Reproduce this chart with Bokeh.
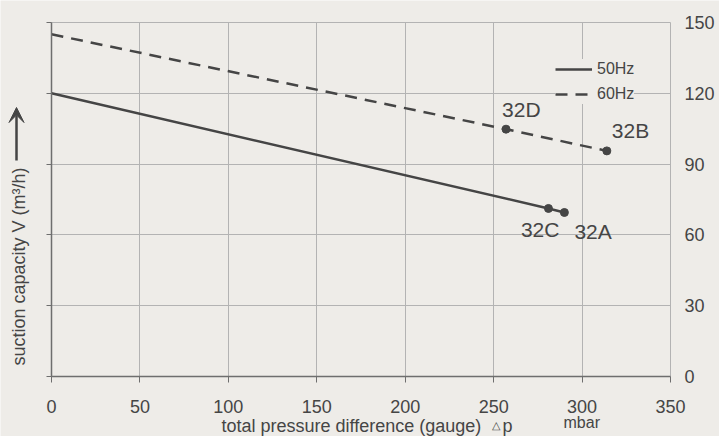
import math
from bokeh.plotting import figure
from bokeh.models import (FixedTicker, Range1d, Label, Arrow, VeeHead, LinearAxis,
                          Legend, LegendItem, ColumnDataSource)
from bokeh.core.properties import value
from bokeh.embed import file_html
from bokeh.resources import INLINE

# ---- data ----
x_ticks = [0, 50, 100, 150, 200, 250, 300, 350]
y_ticks = [0, 30, 60, 90, 120, 150]

hz50_x = [0, 281, 290]
hz50_y = [120, 71.2, 69.5]
hz60_x = [0, 257, 314]
hz60_y = [145, 104.8, 95.6]

point_names = ["32C", "32A", "32D", "32B"]
point_x = [281, 290, 257, 314]
point_y = [71.2, 69.5, 104.8, 95.6]

series_labels = ["50Hz", "60Hz"]

# ---- style / geometry ----
BG = "#eeece8"
INK = "#454545"
GRID = "#b3b3b3"
AXIS = "#6e6e6e"
FONT = "Liberation Sans"

W, H = 719, 436
PLOT_L, PLOT_R, PLOT_T, PLOT_B = 51, 670, 22, 376   # pixel box of the 0..350 x 0..150 area
XMAX, YMAX = 350, 150
kx = (PLOT_R - PLOT_L) / XMAX
ky = (PLOT_B - PLOT_T) / YMAX
x_start = -PLOT_L / kx
x_end = XMAX + (W - PLOT_R) / kx
y_start = -(H - PLOT_B) / ky
y_end = YMAX + PLOT_T / ky

label_align = ["right", "left", "left", "left"]
label_dx = [11, 10, -4, 5]
label_dy = [21, 19, -20, -20]

p = figure(width=W, height=H, x_range=Range1d(x_start, x_end), y_range=Range1d(y_start, y_end),
           output_backend="svg", toolbar_location=None, y_axis_location="right",
           min_border_left=0, min_border_right=0, min_border_top=0, min_border_bottom=0)
p.background_fill_color = BG
p.border_fill_color = BG
p.outline_line_color = None

# grid limited to the data area
p.xgrid.ticker = FixedTicker(ticks=x_ticks)
p.ygrid.ticker = FixedTicker(ticks=y_ticks)
for g in (p.xgrid, p.ygrid):
    g.grid_line_color = GRID
    g.grid_line_width = 1
p.xgrid.bounds = (0, XMAX)
p.ygrid.bounds = (0, YMAX)
try:
    p.xgrid.cross_bounds = (0, YMAX)
    p.ygrid.cross_bounds = (0, XMAX)
except AttributeError:
    p.xgrid.visible = False
    p.ygrid.visible = False
    p.segment(x0=x_ticks, y0=[0] * len(x_ticks), x1=x_ticks, y1=[YMAX] * len(x_ticks),
              line_color=GRID, line_width=1)
    p.segment(x0=[0] * len(y_ticks), y0=y_ticks, x1=[XMAX] * len(y_ticks), y1=y_ticks,
              line_color=GRID, line_width=1)

# bottom axis, drawn at y = 0
xa = p.xaxis[0]
xa.ticker = FixedTicker(ticks=x_ticks)
xa.fixed_location = 0
xa.bounds = (0, XMAX)
xa.axis_line_color = AXIS
xa.axis_line_width = 1.5
xa.major_tick_line_color = AXIS
xa.major_tick_out = 6
xa.major_tick_in = 0
xa.minor_tick_line_color = None
xa.major_label_standoff = 17
xa.major_label_text_font = FONT
xa.major_label_text_font_size = "18px"
xa.major_label_text_color = INK

# right axis (labels only), drawn at x = 350
ya = p.yaxis[0]
ya.ticker = FixedTicker(ticks=y_ticks)
ya.fixed_location = XMAX
ya.bounds = (0, YMAX)
ya.axis_line_color = None
ya.major_tick_line_color = None
ya.major_tick_out = 6
ya.minor_tick_line_color = None
ya.major_label_standoff = 8
ya.major_label_text_font = FONT
ya.major_label_text_font_size = "18px"
ya.major_label_text_color = INK

# left axis line + ticks drawn at x = 0 (the values are on the right axis)
la = LinearAxis(ticker=FixedTicker(ticks=y_ticks), fixed_location=0, bounds=(0, YMAX))
la.axis_line_color = AXIS
la.axis_line_width = 1.5
la.major_tick_line_color = AXIS
la.major_tick_out = 5
la.major_tick_in = 0
la.minor_tick_line_color = None
la.major_label_text_color = None
la.major_label_text_font_size = "1px"
la.major_label_standoff = 0
p.add_layout(la, "left")

# lines
r50 = p.line(hz50_x, hz50_y, line_color=INK, line_width=2.5)
r60 = p.line(hz60_x, hz60_y, line_color=INK, line_width=2.5, line_dash="12 8")

# points and labels
src = ColumnDataSource(dict(x=point_x, y=point_y, name=point_names,
                            align=label_align, dx=label_dx, dy=label_dy))
p.scatter("x", "y", source=src, size=8, fill_color=INK, line_color=INK)
p.text("x", "y", text="name", source=src, x_offset="dx", y_offset="dy",
       text_align="align", text_baseline="alphabetic",
       text_font=value(FONT), text_font_size="21px", text_color=INK)

# legend
legend = Legend(items=[LegendItem(label=series_labels[0], renderers=[r50]),
                       LegendItem(label=series_labels[1], renderers=[r60])],
                location=(555, 332), orientation="vertical",
                glyph_width=37, glyph_height=20, label_height=20, label_standoff=5,
                spacing=5, padding=5, margin=0,
                background_fill_color=BG, background_fill_alpha=1.0,
                border_line_color=None,
                label_text_font=FONT, label_text_font_size="16px", label_text_color=INK)
p.add_layout(legend)

def px_x(px):
    return (px - PLOT_L) / kx

def px_y(py):
    return (PLOT_B - py) / ky

# axis titles
p.add_layout(Label(x=px_x(18.5), y=px_y(365), text="suction capacity V (m³/h)", angle=math.pi / 2,
                   text_align="left", text_baseline="middle",
                   text_font=FONT, text_font_size="18px", text_color=INK))
p.add_layout(Arrow(end=VeeHead(size=15, fill_color=INK, line_color=INK, line_width=1),
                   x_start=px_x(16), y_start=px_y(160), x_end=px_x(16), y_end=px_y(107),
                   line_color=INK, line_width=2.5))
p.add_layout(Label(x=px_x(221), y=px_y(425), text="total pressure difference (gauge)",
                   text_align="left", text_baseline="alphabetic",
                   text_font=FONT, text_font_size="18px", text_color=INK))
p.add_layout(Label(x=px_x(491), y=px_y(424), text="△",
                   text_align="left", text_baseline="alphabetic",
                   text_font=FONT, text_font_size="11px", text_color=INK))
p.add_layout(Label(x=px_x(502), y=px_y(425), text="p",
                   text_align="left", text_baseline="alphabetic",
                   text_font=FONT, text_font_size="18px", text_color=INK))
p.add_layout(Label(x=px_x(563), y=px_y(422), text="mbar",
                   text_align="left", text_baseline="alphabetic",
                   text_font=FONT, text_font_size="16px", text_color=INK))

open("out.html", "w").write(file_html(p, INLINE))
